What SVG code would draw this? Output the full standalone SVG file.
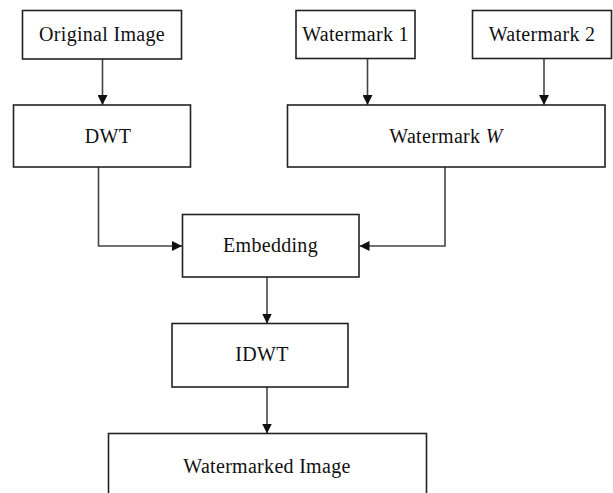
<svg xmlns="http://www.w3.org/2000/svg" width="613" height="493" viewBox="0 0 613 493">
  <defs>
    <marker id="arr" viewBox="0 0 10 10" refX="10" refY="5" markerWidth="10" markerHeight="10" markerUnits="userSpaceOnUse" orient="auto">
      <path d="M0,0 L10,5 L0,10 Z" fill="#111"/>
    </marker>
  </defs>
  <style>
    .box { fill: #fff; stroke: #222; stroke-width: 1.6; }
    .lbl { font-family: "Liberation Serif", "Times New Roman", serif; font-size: 20px; letter-spacing: 0.3px; fill: #111; text-anchor: middle; }
    .con { fill: none; stroke: #444; stroke-width: 1.6; marker-end: url(#arr); }
  </style>
  <rect width="613" height="493" fill="#fff"/>

  <g id="connectors">
    <path class="con" d="M102.5,59 V105"/>
    <path class="con" d="M367.5,58.5 V105"/>
    <path class="con" d="M544,58.5 V105"/>
    <path class="con" d="M98.5,167 V246 H182"/>
    <path class="con" d="M445,167 V246 H359.5"/>
    <path class="con" d="M267,277 V323.5"/>
    <path class="con" d="M267,387 V433.5"/>
  </g>

  <g id="original-image">
    <rect class="box" x="22.5" y="10.5" width="159" height="48.5"/>
    <text class="lbl" x="102" y="41">Original Image</text>
  </g>
  <g id="watermark-1">
    <rect class="box" x="296" y="10.5" width="119" height="48"/>
    <text class="lbl" x="355.5" y="41">Watermark 1</text>
  </g>
  <g id="watermark-2">
    <rect class="box" x="472.5" y="10.5" width="139" height="48"/>
    <text class="lbl" x="542" y="41">Watermark 2</text>
  </g>
  <g id="dwt">
    <rect class="box" x="13.5" y="105" width="177" height="62"/>
    <text class="lbl" x="108" y="142.5">DWT</text>
  </g>
  <g id="watermark-w">
    <rect class="box" x="287.5" y="105" width="317.5" height="62"/>
    <text class="lbl" x="446" y="143">Watermark <tspan font-style="italic">W</tspan></text>
  </g>
  <g id="embedding">
    <rect class="box" x="182.5" y="214.5" width="176.5" height="62.5"/>
    <text class="lbl" x="270.5" y="252">Embedding</text>
  </g>
  <g id="idwt">
    <rect class="box" x="172" y="323.5" width="176" height="63.5"/>
    <text class="lbl" x="262" y="361">IDWT</text>
  </g>
  <g id="watermarked-image">
    <rect class="box" x="108.5" y="433.5" width="318" height="70"/>
    <text class="lbl" x="267" y="472.5">Watermarked Image</text>
  </g>
</svg>
